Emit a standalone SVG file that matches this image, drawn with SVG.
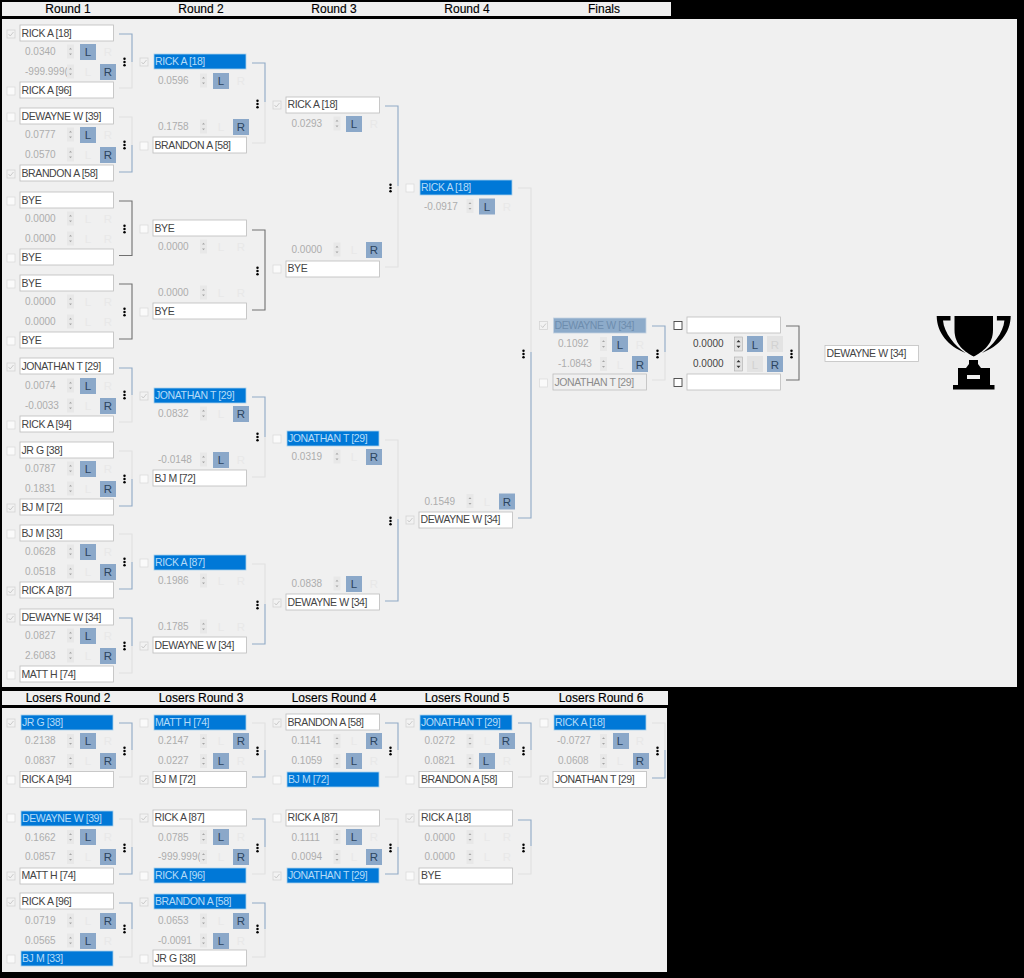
<svg xmlns="http://www.w3.org/2000/svg" width="1024" height="978" viewBox="0 0 1024 978">
<style>
text{font-family:"Liberation Sans",Arial,sans-serif;font-size:10px}
.bg{fill:#000}.pn{fill:#f0f0f0}
.h{font-size:12px;fill:#000;text-anchor:middle;stroke:#000;stroke-width:.15}
.bx{width:93.500px;height:16px;fill:#fff;stroke:#bcbcbc;stroke-width:.8}
.sl{width:92px;height:15px;fill:#0078d7;stroke:#a9d0ec;stroke-width:.8}
.gs{width:92.500px;height:15px;fill:#8dabca;stroke:#c4d2e0;stroke-width:.8}
.ds{width:93.500px;height:16px;fill:#f0f0f0;stroke:#bdbdbd;stroke-width:.8}
.nm,.st,.gt,.dt{font-size:10.500px;letter-spacing:-.4px}
.nm{fill:#444}.st{fill:#b4dbf7}.gt{fill:#6d8dae}.dt{fill:#8c8c8c}
.n{fill:#adadad}.nk{fill:#444}
.b{width:16px;height:16px;fill:#8ba8c9}.g{width:16px;height:16px;fill:#e3e3e3}
.on{fill:#2c4560;font-size:11.500px;text-anchor:middle}.of{fill:#e8e8e8;font-size:11.500px;text-anchor:middle}.gf{fill:#d2d2d2;font-size:11.500px;text-anchor:middle}
.cn{fill:none;stroke-width:1.100}.w{stroke:#8fa9c6}.l{stroke:#e0e0e0}.k{stroke:#707070}
</style>
<defs>
<g id="u"><rect x="-4" y="-4" width="8" height="8" fill="#fafafa" stroke="#dcdcdc" stroke-width=".8"/></g>
<g id="c"><rect x="-4" y="-4" width="8" height="8" fill="#f2f2f2" stroke="#d4d4d4" stroke-width=".8"/><path d="M-2.500 0L-.8 2L2.500-2" fill="none" stroke="#c6c6c6" stroke-width=".9"/></g>
<g id="e"><rect x="-4" y="-4" width="8" height="8" fill="#fff" stroke="#444" stroke-width=".9"/></g>
<g id="sp"><rect x="-3.500" y="-7" width="7" height="14" fill="#e8e8e8"/><path d="M-1.500-2L0-3.800L1.500-2ZM-1.500 2L0 3.800L1.500 2Z" fill="#a6a6a6"/></g>
<g id="sk"><rect x="-4" y="-7" width="8" height="14" fill="#e2e2e2" stroke="#adadad" stroke-width=".6"/><path d="M-2-1.800L0-4L2-1.800ZM-2 1.800L0 4L2 1.800Z" fill="#333"/></g>
<g id="d"><circle cy="-3.200" r="1.250" fill="#000"/><circle r="1.250" fill="#000"/><circle cy="3.200" r="1.250" fill="#000"/></g>
</defs>
<rect class="bg" width="1024" height="978"/>
<rect class="pn" x="2" y="2" width="669" height="14"/>
<rect class="pn" x="2" y="19" width="1015" height="668"/>
<rect class="pn" x="2" y="691" width="666" height="14"/>
<rect class="pn" x="2" y="708" width="665" height="264"/>
<g id="headers">
<text class="h" x="68" y="13">Round 1</text><text class="h" x="201" y="13">Round 2</text><text class="h" x="334" y="13">Round 3</text><text class="h" x="467" y="13">Round 4</text><text class="h" x="604" y="13">Finals</text>
<text class="h" x="68" y="702">Losers Round 2</text><text class="h" x="201" y="702">Losers Round 3</text><text class="h" x="334" y="702">Losers Round 4</text><text class="h" x="467" y="702">Losers Round 5</text><text class="h" x="601" y="702">Losers Round 6</text>
</g>
<g id="connectors">
<path class="cn w" d="M119 34H132V62"/><path class="cn l" d="M132 62V88H119"/>
<path class="cn l" d="M119 117H132V145"/><path class="cn w" d="M132 145V172H119"/>
<path class="cn k" d="M119 201H132V255.500H119"/>
<path class="cn k" d="M119 284H132V339H119"/>
<path class="cn w" d="M119 368H132V395"/><path class="cn l" d="M132 395V422H119"/>
<path class="cn l" d="M119 451H132V479"/><path class="cn w" d="M132 479V506H119"/>
<path class="cn l" d="M119 534H132V562"/><path class="cn w" d="M132 562V589H119"/>
<path class="cn w" d="M119 618H132V646"/><path class="cn l" d="M132 646V673H119"/>
<path class="cn w" d="M252 63H265V102"/><path class="cn l" d="M265 102V143H252"/>
<path class="cn k" d="M252 230H265V310H252"/>
<path class="cn w" d="M252 397H265V437"/><path class="cn l" d="M265 437V477H252"/>
<path class="cn l" d="M252 564H265V604"/><path class="cn w" d="M265 604V644H252"/>
<path class="cn w" d="M385 106H398V186"/><path class="cn l" d="M398 186V267H385"/>
<path class="cn l" d="M385 440H398V519"/><path class="cn w" d="M398 519V601H385"/>
<path class="cn l" d="M518 188H531V352"/><path class="cn w" d="M531 352V518H518"/>
<path class="cn w" d="M652 326H665V352"/><path class="cn l" d="M665 352V380H652"/>
<path class="cn k" d="M786 326H799V380H786"/>
<path class="cn w" d="M119 723H132V750"/><path class="cn l" d="M132 750V777H119"/>
<path class="cn l" d="M119 819H132V847"/><path class="cn w" d="M132 847V874H119"/>
<path class="cn w" d="M119 903H132V929"/><path class="cn l" d="M132 929V957H119"/>
<path class="cn l" d="M252 723H265V750"/><path class="cn w" d="M265 750V777H252"/>
<path class="cn w" d="M252 819H265V847"/><path class="cn l" d="M265 847V874H252"/>
<path class="cn w" d="M252 903H265V929"/><path class="cn l" d="M265 929V957H252"/>
<path class="cn w" d="M385 723H398V750"/><path class="cn l" d="M398 750V777H385"/>
<path class="cn l" d="M385 819H398V847"/><path class="cn w" d="M398 847V874H385"/>
<path class="cn w" d="M518 723H531V750"/><path class="cn l" d="M531 750V777H518"/>
<path class="cn w" d="M518 820H531V846"/><path class="cn l" d="M531 846V874H518"/>
<path class="cn l" d="M652 723H665V750"/><path class="cn w" d="M665 750V778H652"/>
<use href="#d" x="124.500" y="62"/><use href="#d" x="124.500" y="145"/><use href="#d" x="124.500" y="229"/><use href="#d" x="124.500" y="312"/><use href="#d" x="124.500" y="395"/><use href="#d" x="124.500" y="479"/><use href="#d" x="124.500" y="562"/><use href="#d" x="124.500" y="646"/>
<use href="#d" x="257.500" y="104"/><use href="#d" x="257.500" y="271"/><use href="#d" x="257.500" y="437"/><use href="#d" x="257.500" y="605"/>
<use href="#d" x="390.500" y="188"/><use href="#d" x="390.500" y="521"/><use href="#d" x="523.500" y="354"/><use href="#d" x="657.500" y="354"/><use href="#d" x="791.500" y="354"/>
<use href="#d" x="124.500" y="751"/><use href="#d" x="124.500" y="848"/><use href="#d" x="124.500" y="929"/>
<use href="#d" x="257.500" y="751"/><use href="#d" x="257.500" y="848"/><use href="#d" x="257.500" y="929"/>
<use href="#d" x="390.500" y="751"/><use href="#d" x="390.500" y="848"/><use href="#d" x="523.500" y="751"/><use href="#d" x="523.500" y="848"/><use href="#d" x="657.500" y="751"/>
</g>

<g id="r1-m1"><use href="#c" x="11" y="34"/><rect class="bx" x="20" y="25"/><text class="nm" x="21.500" y="36.500">RICK A [18]</text>
<text class="n" x="25" y="55">0.0340</text><use href="#sp" x="70.500" y="51.500"/><rect class="b" x="80" y="44"/><text class="on" x="88" y="56">L</text><text class="of" x="108" y="56">R</text>
<text class="n" x="25" y="75">-999.999(</text><use href="#sp" x="70.500" y="71.500"/><text class="of" x="88" y="76">L</text><rect class="b" x="100" y="64"/><text class="on" x="108" y="76">R</text>
<use href="#u" x="11" y="91"/><rect class="bx" x="20" y="82"/><text class="nm" x="21.500" y="93.500">RICK A [96]</text></g>
<g id="r1-m2"><use href="#u" x="11" y="117"/><rect class="bx" x="20" y="108"/><text class="nm" x="21.500" y="119.500">DEWAYNE W [39]</text>
<text class="n" x="25" y="138">0.0777</text><use href="#sp" x="70.500" y="134.500"/><rect class="b" x="80" y="127"/><text class="on" x="88" y="139">L</text><text class="of" x="108" y="139">R</text>
<text class="n" x="25" y="158">0.0570</text><use href="#sp" x="70.500" y="154.500"/><text class="of" x="88" y="159">L</text><rect class="b" x="100" y="147"/><text class="on" x="108" y="159">R</text>
<use href="#c" x="11" y="174"/><rect class="bx" x="20" y="165"/><text class="nm" x="21.500" y="176.500">BRANDON A [58]</text></g>
<g id="r1-m3"><use href="#u" x="11" y="201"/><rect class="bx" x="20" y="192"/><text class="nm" x="21.500" y="203.500">BYE</text>
<text class="n" x="25" y="222">0.0000</text><use href="#sp" x="70.500" y="218.500"/><text class="of" x="88" y="223">L</text><text class="of" x="108" y="223">R</text>
<text class="n" x="25" y="242">0.0000</text><use href="#sp" x="70.500" y="238.500"/><text class="of" x="88" y="243">L</text><text class="of" x="108" y="243">R</text>
<use href="#u" x="11" y="258"/><rect class="bx" x="20" y="249"/><text class="nm" x="21.500" y="260.500">BYE</text></g>
<g id="r1-m4"><use href="#u" x="11" y="284"/><rect class="bx" x="20" y="275"/><text class="nm" x="21.500" y="286.500">BYE</text>
<text class="n" x="25" y="305">0.0000</text><use href="#sp" x="70.500" y="301.500"/><text class="of" x="88" y="306">L</text><text class="of" x="108" y="306">R</text>
<text class="n" x="25" y="325">0.0000</text><use href="#sp" x="70.500" y="321.500"/><text class="of" x="88" y="326">L</text><text class="of" x="108" y="326">R</text>
<use href="#u" x="11" y="341"/><rect class="bx" x="20" y="332"/><text class="nm" x="21.500" y="343.500">BYE</text></g>
<g id="r1-m5"><use href="#c" x="11" y="367"/><rect class="bx" x="20" y="358"/><text class="nm" x="21.500" y="369.500">JONATHAN T [29]</text>
<text class="n" x="25" y="389">0.0074</text><use href="#sp" x="70.500" y="385.500"/><rect class="b" x="80" y="378"/><text class="on" x="88" y="390">L</text><text class="of" x="108" y="390">R</text>
<text class="n" x="25" y="409">-0.0033</text><use href="#sp" x="70.500" y="405.500"/><text class="of" x="88" y="410">L</text><rect class="b" x="100" y="398"/><text class="on" x="108" y="410">R</text>
<use href="#u" x="11" y="425"/><rect class="bx" x="20" y="416"/><text class="nm" x="21.500" y="427.500">RICK A [94]</text></g>
<g id="r1-m6"><use href="#u" x="11" y="451"/><rect class="bx" x="20" y="442"/><text class="nm" x="21.500" y="453.500">JR G [38]</text>
<text class="n" x="25" y="472">0.0787</text><use href="#sp" x="70.500" y="468.500"/><rect class="b" x="80" y="461"/><text class="on" x="88" y="473">L</text><text class="of" x="108" y="473">R</text>
<text class="n" x="25" y="492">0.1831</text><use href="#sp" x="70.500" y="488.500"/><text class="of" x="88" y="493">L</text><rect class="b" x="100" y="481"/><text class="on" x="108" y="493">R</text>
<use href="#c" x="11" y="508"/><rect class="bx" x="20" y="499"/><text class="nm" x="21.500" y="510.500">BJ M [72]</text></g>
<g id="r1-m7"><use href="#u" x="11" y="534"/><rect class="bx" x="20" y="525"/><text class="nm" x="21.500" y="536.500">BJ M [33]</text>
<text class="n" x="25" y="555">0.0628</text><use href="#sp" x="70.500" y="551.500"/><rect class="b" x="80" y="544"/><text class="on" x="88" y="556">L</text><text class="of" x="108" y="556">R</text>
<text class="n" x="25" y="575">0.0518</text><use href="#sp" x="70.500" y="571.500"/><text class="of" x="88" y="576">L</text><rect class="b" x="100" y="564"/><text class="on" x="108" y="576">R</text>
<use href="#c" x="11" y="591"/><rect class="bx" x="20" y="582"/><text class="nm" x="21.500" y="593.500">RICK A [87]</text></g>
<g id="r1-m8"><use href="#c" x="11" y="618"/><rect class="bx" x="20" y="609"/><text class="nm" x="21.500" y="620.500">DEWAYNE W [34]</text>
<text class="n" x="25" y="639">0.0827</text><use href="#sp" x="70.500" y="635.500"/><rect class="b" x="80" y="628"/><text class="on" x="88" y="640">L</text><text class="of" x="108" y="640">R</text>
<text class="n" x="25" y="659">2.6083</text><use href="#sp" x="70.500" y="655.500"/><text class="of" x="88" y="660">L</text><rect class="b" x="100" y="648"/><text class="on" x="108" y="660">R</text>
<use href="#u" x="11" y="675"/><rect class="bx" x="20" y="666"/><text class="nm" x="21.500" y="677.500">MATT H [74]</text></g>

<g id="r2-m1"><use href="#c" x="144" y="62"/><rect class="sl" x="154" y="54"/><text class="st" x="155" y="65">RICK A [18]</text>
<text class="n" x="158" y="84">0.0596</text><use href="#sp" x="203.500" y="80.500"/><rect class="b" x="213" y="73"/><text class="on" x="221" y="85">L</text><text class="of" x="241" y="85">R</text>
<text class="n" x="158" y="130">0.1758</text><use href="#sp" x="203.500" y="126.500"/><text class="of" x="221" y="131">L</text><rect class="b" x="233" y="119"/><text class="on" x="241" y="131">R</text>
<use href="#u" x="144" y="146"/><rect class="bx" x="153" y="137"/><text class="nm" x="154.500" y="148.500">BRANDON A [58]</text></g>
<g id="r2-m2"><use href="#u" x="144" y="229"/><rect class="bx" x="153" y="220"/><text class="nm" x="154.500" y="231.500">BYE</text>
<text class="n" x="158" y="250">0.0000</text><use href="#sp" x="203.500" y="246.500"/><text class="of" x="221" y="251">L</text><text class="of" x="241" y="251">R</text>
<text class="n" x="158" y="296">0.0000</text><use href="#sp" x="203.500" y="292.500"/><text class="of" x="221" y="297">L</text><text class="of" x="241" y="297">R</text>
<use href="#u" x="144" y="312"/><rect class="bx" x="153" y="303"/><text class="nm" x="154.500" y="314.500">BYE</text></g>
<g id="r2-m3"><use href="#c" x="144" y="396"/><rect class="sl" x="154" y="388"/><text class="st" x="155" y="399">JONATHAN T [29]</text>
<text class="n" x="158" y="417">0.0832</text><use href="#sp" x="203.500" y="413.500"/><text class="of" x="221" y="418">L</text><rect class="b" x="233" y="406"/><text class="on" x="241" y="418">R</text>
<text class="n" x="158" y="463">-0.0148</text><use href="#sp" x="203.500" y="459.500"/><rect class="b" x="213" y="452"/><text class="on" x="221" y="464">L</text><text class="of" x="241" y="464">R</text>
<use href="#u" x="144" y="479"/><rect class="bx" x="153" y="470"/><text class="nm" x="154.500" y="481.500">BJ M [72]</text></g>
<g id="r2-m4"><use href="#u" x="144" y="563"/><rect class="sl" x="154" y="555"/><text class="st" x="155" y="566">RICK A [87]</text>
<text class="n" x="158" y="584">0.1986</text><use href="#sp" x="203.500" y="580.500"/><text class="of" x="221" y="585">L</text><text class="of" x="241" y="585">R</text>
<text class="n" x="158" y="630">0.1785</text><use href="#sp" x="203.500" y="626.500"/><text class="of" x="221" y="631">L</text><text class="of" x="241" y="631">R</text>
<use href="#c" x="144" y="646"/><rect class="bx" x="153" y="637"/><text class="nm" x="154.500" y="648.500">DEWAYNE W [34]</text></g>

<g id="r3-m1"><use href="#c" x="277" y="105"/><rect class="bx" x="286" y="97"/><text class="nm" x="287.500" y="108">RICK A [18]</text>
<text class="n" x="291.500" y="127">0.0293</text><use href="#sp" x="337" y="123.500"/><rect class="b" x="346" y="116"/><text class="on" x="354" y="128">L</text><text class="of" x="374" y="128">R</text>
<text class="n" x="291.500" y="253">0.0000</text><use href="#sp" x="337" y="249.500"/><text class="of" x="354" y="254">L</text><rect class="b" x="366" y="242"/><text class="on" x="374" y="254">R</text>
<use href="#u" x="277" y="269"/><rect class="bx" x="286" y="261"/><text class="nm" x="287.500" y="272">BYE</text></g>
<g id="r3-m2"><use href="#u" x="277" y="439"/><rect class="sl" x="287" y="431"/><text class="st" x="288" y="442">JONATHAN T [29]</text>
<text class="n" x="291.500" y="460">0.0319</text><use href="#sp" x="337" y="456.500"/><text class="of" x="354" y="461">L</text><rect class="b" x="366" y="449"/><text class="on" x="374" y="461">R</text>
<text class="n" x="291.500" y="587">0.0838</text><use href="#sp" x="337" y="583.500"/><rect class="b" x="346" y="576"/><text class="on" x="354" y="588">L</text><text class="of" x="374" y="588">R</text>
<use href="#c" x="277" y="603"/><rect class="bx" x="286" y="594"/><text class="nm" x="287.500" y="605.500">DEWAYNE W [34]</text></g>

<g id="r4-m1"><use href="#u" x="410" y="188"/><rect class="sl" x="420" y="180"/><text class="st" x="421" y="191">RICK A [18]</text>
<text class="n" x="424" y="209.500">-0.0917</text><use href="#sp" x="470" y="206"/><rect class="b" x="479" y="198.500"/><text class="on" x="487" y="210.500">L</text><text class="of" x="507" y="210.500">R</text>
<text class="n" x="424.500" y="504.500">0.1549</text><use href="#sp" x="470" y="501"/><text class="of" x="487" y="505.500">L</text><rect class="b" x="499" y="493.500"/><text class="on" x="507" y="505.500">R</text>
<use href="#c" x="410" y="520"/><rect class="bx" x="419" y="512"/><text class="nm" x="420.500" y="523">DEWAYNE W [34]</text></g>

<g id="f1"><use href="#c" x="543.500" y="325.500"/><rect class="gs" x="553.500" y="318"/><text class="gt" x="554.500" y="329">DEWAYNE W [34]</text>
<text class="n" x="558" y="347">0.1092</text><use href="#sp" x="603.500" y="344"/><rect class="b" x="612" y="336"/><text class="on" x="620" y="348.500">L</text><text class="of" x="640" y="348.500">R</text>
<text class="n" x="558" y="367">-1.0843</text><use href="#sp" x="603.500" y="364"/><text class="of" x="620" y="368.500">L</text><rect class="b" x="632" y="356"/><text class="on" x="640" y="368.500">R</text>
<use href="#u" x="543.500" y="383"/><rect class="ds" x="553" y="374"/><text class="dt" x="554.500" y="385.500">JONATHAN T [29]</text></g>
<g id="f2"><use href="#e" x="678" y="325.500"/><rect class="bx" x="687" y="317"/>
<text class="nk" x="693" y="347">0.0000</text><use href="#sk" x="738.500" y="344"/><rect class="b" x="747" y="336"/><text class="on" x="755" y="348.500">L</text><rect class="g" x="767" y="336"/><text class="gf" x="775" y="348.500">R</text>
<text class="nk" x="693" y="367">0.0000</text><use href="#sk" x="738.500" y="364"/><rect class="g" x="747" y="356"/><text class="gf" x="755" y="368.500">L</text><rect class="b" x="767" y="356"/><text class="on" x="775" y="368.500">R</text>
<use href="#e" x="678" y="382.500"/><rect class="bx" x="687" y="374"/></g>
<g id="winner"><rect class="bx" x="825" y="345.500" style="stroke:#c0c0c0"/><text class="nm" x="826.500" y="357">DEWAYNE W [34]</text></g>
<g id="trophy" fill="#000">
<path d="M954.500 316H993V330C993 345 982 352 973.700 356.500C965 352 954.500 345 954.500 330Z"/>
<path d="M936.700 316H950.500V320.500H943C944 333 955 346 965.500 353C948 346 937 333 936.700 316Z"/>
<path d="M1010.700 316H996.900V320.500H1004.400C1003.400 333 992.400 346 981.900 353C999.400 346 1010.400 333 1010.700 316Z"/>
<path d="M969 360H978V364L981 368H990V385H994.500V389.500H953V385H958V368H966L969 364Z"/>
<rect x="967" y="375" width="13" height="4" fill="#f0f0f0"/>
</g>

<g id="l2-m1"><use href="#c" x="11" y="723"/><rect class="sl" x="21" y="715"/><text class="st" x="22" y="726">JR G [38]</text>
<text class="n" x="25" y="744">0.2138</text><use href="#sp" x="70.500" y="741"/><rect class="b" x="80" y="733"/><text class="on" x="88" y="745">L</text><text class="of" x="108" y="745">R</text>
<text class="n" x="25" y="764">0.0837</text><use href="#sp" x="70.500" y="761"/><text class="of" x="88" y="765">L</text><rect class="b" x="100" y="753"/><text class="on" x="108" y="765">R</text>
<use href="#u" x="11" y="780"/><rect class="bx" x="20" y="771.500"/><text class="nm" x="21.500" y="783">RICK A [94]</text></g>
<g id="l2-m2"><use href="#u" x="11" y="818"/><rect class="sl" x="21" y="811"/><text class="st" x="22" y="822">DEWAYNE W [39]</text>
<text class="n" x="25" y="840.500">0.1662</text><use href="#sp" x="70.500" y="837"/><rect class="b" x="80" y="829"/><text class="on" x="88" y="841">L</text><text class="of" x="108" y="841">R</text>
<text class="n" x="25" y="860">0.0857</text><use href="#sp" x="70.500" y="857"/><text class="of" x="88" y="861">L</text><rect class="b" x="100" y="849"/><text class="on" x="108" y="861">R</text>
<use href="#c" x="11" y="876"/><rect class="bx" x="20" y="868"/><text class="nm" x="21.500" y="879">MATT H [74]</text></g>
<g id="l2-m3"><use href="#c" x="11" y="902"/><rect class="bx" x="20" y="893"/><text class="nm" x="21.500" y="904.500">RICK A [96]</text>
<text class="n" x="25" y="924">0.0719</text><use href="#sp" x="70.500" y="920.500"/><text class="of" x="88" y="925">L</text><rect class="b" x="100" y="913"/><text class="on" x="108" y="925">R</text>
<text class="n" x="25" y="944">0.0565</text><use href="#sp" x="70.500" y="940.500"/><rect class="b" x="80" y="933"/><text class="on" x="88" y="945">L</text><text class="of" x="108" y="945">R</text>
<use href="#u" x="11" y="959"/><rect class="sl" x="21" y="951"/><text class="st" x="22" y="962">BJ M [33]</text></g>

<g id="l3-m1"><use href="#u" x="144" y="723"/><rect class="sl" x="154" y="715"/><text class="st" x="155" y="726">MATT H [74]</text>
<text class="n" x="158" y="744">0.2147</text><use href="#sp" x="203.500" y="741"/><text class="of" x="221" y="745">L</text><rect class="b" x="233" y="733"/><text class="on" x="241" y="745">R</text>
<text class="n" x="158" y="764">0.0227</text><use href="#sp" x="203.500" y="761"/><rect class="b" x="213" y="753"/><text class="on" x="221" y="765">L</text><text class="of" x="241" y="765">R</text>
<use href="#c" x="144" y="780"/><rect class="bx" x="153" y="771.500"/><text class="nm" x="154.500" y="783">BJ M [72]</text></g>
<g id="l3-m2"><use href="#c" x="144" y="818"/><rect class="bx" x="153" y="810"/><text class="nm" x="154.500" y="821">RICK A [87]</text>
<text class="n" x="158" y="840.500">0.0785</text><use href="#sp" x="203.500" y="837"/><rect class="b" x="213" y="829"/><text class="on" x="221" y="841">L</text><text class="of" x="241" y="841">R</text>
<text class="n" x="158" y="860">-999.999(</text><use href="#sp" x="203.500" y="857"/><text class="of" x="221" y="861">L</text><rect class="b" x="233" y="849"/><text class="on" x="241" y="861">R</text>
<use href="#u" x="144" y="876"/><rect class="sl" x="154" y="868"/><text class="st" x="155" y="879">RICK A [96]</text></g>
<g id="l3-m3"><use href="#c" x="144" y="902"/><rect class="sl" x="154" y="894"/><text class="st" x="155" y="905">BRANDON A [58]</text>
<text class="n" x="158" y="924">0.0653</text><use href="#sp" x="203.500" y="920.500"/><text class="of" x="221" y="925">L</text><rect class="b" x="233" y="913"/><text class="on" x="241" y="925">R</text>
<text class="n" x="158" y="944">-0.0091</text><use href="#sp" x="203.500" y="940.500"/><rect class="b" x="213" y="933"/><text class="on" x="221" y="945">L</text><text class="of" x="241" y="945">R</text>
<use href="#u" x="144" y="959"/><rect class="bx" x="153" y="950"/><text class="nm" x="154.500" y="961.500">JR G [38]</text></g>

<g id="l4-m1"><use href="#c" x="277" y="723"/><rect class="bx" x="286" y="714"/><text class="nm" x="287.500" y="725.500">BRANDON A [58]</text>
<text class="n" x="291.500" y="744">0.1141</text><use href="#sp" x="337" y="741"/><text class="of" x="354" y="745">L</text><rect class="b" x="366" y="733"/><text class="on" x="374" y="745">R</text>
<text class="n" x="291.500" y="764">0.1059</text><use href="#sp" x="337" y="761"/><rect class="b" x="346" y="753"/><text class="on" x="354" y="765">L</text><text class="of" x="374" y="765">R</text>
<use href="#u" x="277" y="780"/><rect class="sl" x="287" y="772"/><text class="st" x="288" y="783">BJ M [72]</text></g>
<g id="l4-m2"><use href="#u" x="277" y="818"/><rect class="bx" x="286" y="810"/><text class="nm" x="287.500" y="821">RICK A [87]</text>
<text class="n" x="291.500" y="840.500">0.1111</text><use href="#sp" x="337" y="837"/><rect class="b" x="346" y="829"/><text class="on" x="354" y="841">L</text><text class="of" x="374" y="841">R</text>
<text class="n" x="291.500" y="860">0.0094</text><use href="#sp" x="337" y="857"/><text class="of" x="354" y="861">L</text><rect class="b" x="366" y="849"/><text class="on" x="374" y="861">R</text>
<use href="#c" x="277" y="876"/><rect class="sl" x="287" y="868"/><text class="st" x="288" y="879">JONATHAN T [29]</text></g>

<g id="l5-m1"><use href="#c" x="410" y="723"/><rect class="sl" x="420" y="715"/><text class="st" x="421" y="726">JONATHAN T [29]</text>
<text class="n" x="424.500" y="744">0.0272</text><use href="#sp" x="470" y="741"/><text class="of" x="487" y="745">L</text><rect class="b" x="499" y="733"/><text class="on" x="506" y="745">R</text>
<text class="n" x="424.500" y="764">0.0821</text><use href="#sp" x="470" y="761"/><rect class="b" x="479" y="753"/><text class="on" x="486" y="765">L</text><text class="of" x="507" y="765">R</text>
<use href="#u" x="410" y="780"/><rect class="bx" x="419" y="771.500"/><text class="nm" x="421" y="783">BRANDON A [58]</text></g>
<g id="l5-m2"><use href="#c" x="410" y="818"/><rect class="bx" x="419" y="810"/><text class="nm" x="421" y="821">RICK A [18]</text>
<text class="n" x="424.500" y="840.500">0.0000</text><use href="#sp" x="470" y="837"/><text class="of" x="487" y="841">L</text><text class="of" x="507" y="841">R</text>
<text class="n" x="424.500" y="860">0.0000</text><use href="#sp" x="470" y="857"/><text class="of" x="487" y="861">L</text><text class="of" x="507" y="861">R</text>
<use href="#u" x="410" y="876"/><rect class="bx" x="419" y="868"/><text class="nm" x="421" y="879">BYE</text></g>

<g id="l6-m1"><use href="#u" x="544" y="723"/><rect class="sl" x="554" y="715"/><text class="st" x="555" y="726">RICK A [18]</text>
<text class="n" x="557" y="744">-0.0727</text><use href="#sp" x="603.500" y="741"/><rect class="b" x="613" y="733"/><text class="on" x="620" y="745">L</text><text class="of" x="640" y="745">R</text>
<text class="n" x="558" y="764">0.0608</text><use href="#sp" x="603.500" y="761"/><text class="of" x="620" y="765">L</text><rect class="b" x="633" y="753"/><text class="on" x="640" y="765">R</text>
<use href="#c" x="544" y="780"/><rect class="bx" x="553" y="771.500"/><text class="nm" x="555" y="783">JONATHAN T [29]</text></g>
</svg>
